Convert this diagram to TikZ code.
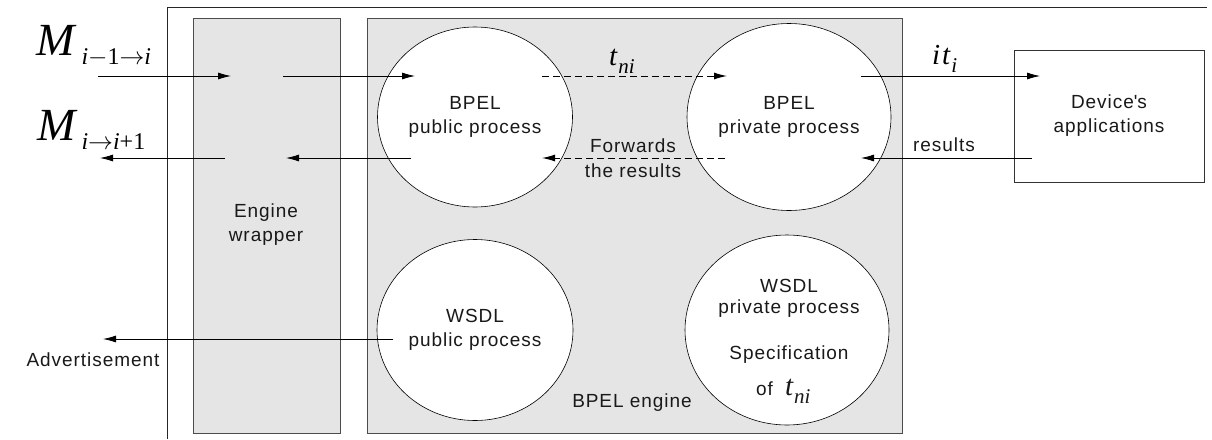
\documentclass[tikz,border=0pt]{standalone}
\usepackage{fontspec}
\setmainfont{Liberation Sans}[LetterSpace=5]
\newfontfamily\serifmath{Liberation Serif}
\usetikzlibrary{arrows.meta,shapes.geometric}
\tikzset{
  lbl/.style={font=\fontsize{19}{24}\selectfont, align=center, inner sep=0pt, text=black!90},
  arr/.style={draw, line width=0.8pt, -{Latex[length=13pt,width=7pt]}},
  dsh/.style={arr, line width=1pt, dash pattern=on 7pt off 4pt},
  circ/.style={ellipse, draw, line width=0.6pt, fill=white, inner sep=0pt, font=\fontsize{19}{24}\selectfont, align=center, text=black!90},
  panel/.style={draw=black!70, fill=black!10, line width=0.8pt, inner sep=0pt, anchor=north west},
  sym/.style={inner sep=0pt, anchor=base west, font=\serifmath}
}
\newcommand{\bigit}[1]{{\fontsize{46}{46}\selectfont\itshape #1}}
\newcommand{\midit}[1]{{\fontsize{29}{29}\selectfont\itshape #1}}
\newcommand{\subsc}[1]{\raisebox{-9pt}{\fontsize{24}{24}\selectfont #1}}
\newcommand{\subsm}[1]{\raisebox{-8pt}{\fontsize{21}{21}\selectfont\itshape #1}}
\newcommand{\rarr}{\ensuremath{\rightarrow}}
\newcommand{\mminus}{\ensuremath{-}}
\begin{document}
\begin{tikzpicture}[x=1pt,y=-1pt]
\useasboundingbox (0,0) rectangle (1212,439);
% outer frame
\draw[line width=0.8pt, black!85] (167,439) -- (167,7) -- (1207,7);
% panels
\node[panel, minimum width=147pt, minimum height=415pt] (wrap) at (193,18) {};
\node[panel, minimum width=535pt, minimum height=415pt] (eng) at (367,18) {};
\node[draw=black!80, line width=0.8pt, fill=white, minimum width=190pt, minimum height=132pt, inner sep=0pt, anchor=north west] (dev) at (1014,50) {};
\node[lbl] (devt) at (1109,116) {Device\textquotesingle s\\applications};
\node[lbl] (wrapt) at (266,225) {Engine\\wrapper};
\node[lbl] (engt) at (632,403) {BPEL engine};
% circles
\node[circ, minimum width=195pt, minimum height=180pt] (bpub) at (475,117) {BPEL\\public process};
\node[circ, minimum width=204pt, minimum height=187pt] (bpriv) at (789,117) {BPEL\\private process};
\node[circ, minimum width=196pt, minimum height=181pt] (wpub) at (475,330) {WSDL\\public process};
\node[circ, minimum width=204pt, minimum height=190pt] (wpriv) at (787,330) {};
\node[lbl, font=\fontsize{19}{21}\selectfont] (wprivt) at (789,298) {WSDL\\private process};
\node[lbl] (spec) at (789,355) {Specification};
\node[lbl, anchor=base west] (oft) at (756,395) {of\hspace{12pt}\serifmath\midit{t}\hspace{1pt}\subsm{ni}};
% labels
\node[sym] (m1) at (36,55) {\bigit{M}\hspace{7pt}\subsc{\itshape i\upshape\mminus1\rarr\itshape i}};
\node[sym] (m2) at (37,140) {\bigit{M}\hspace{6pt}\subsc{\itshape i\upshape\rarr\itshape i\upshape +1}};
\node[sym] (tni) at (609,65) {\midit{t}\hspace{1pt}\subsm{ni}};
\node[sym] (iti) at (932,64) {\midit{i\hspace{2pt}t}\hspace{1pt}\subsm{i}};
\node[lbl] (fwd) at (633,158) {Forwards\\[1pt]the results};
\node[lbl] (res) at (944,145) {results};
\node[lbl] (adv) at (93,360) {Advertisement};
% arrow coordinates
\coordinate (a1) at (98,76);   \coordinate (a2) at (231,76);
\coordinate (a3) at (283,76);  \coordinate (a4) at (415,76);
\coordinate (a5) at (542,76);  \coordinate (a6) at (727,76);
\coordinate (a7) at (861,76);  \coordinate (a8) at (1040,76);
\coordinate (b1) at (225,158); \coordinate (b2) at (100,158);
\coordinate (b3) at (411,158); \coordinate (b4) at (286,158);
\coordinate (b5) at (725,158); \coordinate (b6) at (542,158);
\coordinate (b7) at (1032,158);\coordinate (b8) at (861,158);
\coordinate (c1) at (393,339); \coordinate (c2) at (103,339);
% arrows
\draw[arr] (a1) -- (a2);
\draw[arr] (a3) -- (a4);
\draw[dsh] (a5) -- (a6);
\draw[arr] (a7) -- (a8);
\draw[arr] (b1) -- (b2);
\draw[arr] (b3) -- (b4);
\draw[dsh] (b5) -- (b6);
\draw[arr] (b7) -- (b8);
\draw[arr] (c1) -- (c2);
\end{tikzpicture}
\end{document}
